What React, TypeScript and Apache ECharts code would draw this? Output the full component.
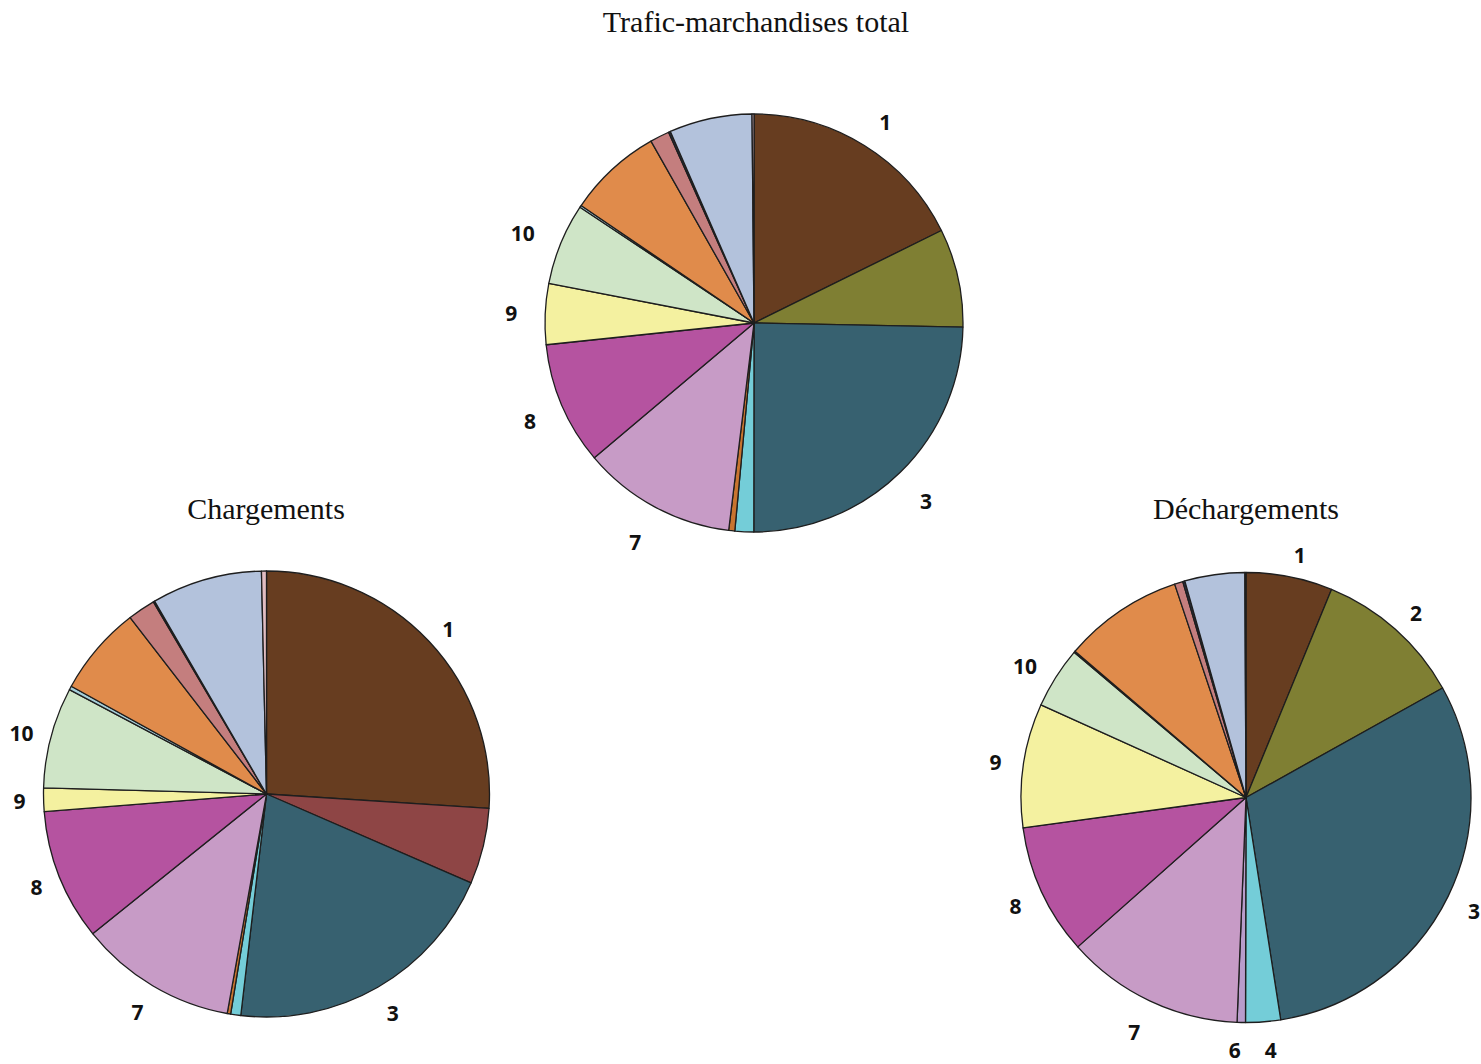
import React, { useEffect, useRef } from "react";
import * as echarts from "echarts";

// Category codes (clockwise order from 12 o'clock)
const categories = ["1", "2", "3", "4", "5", "6", "7", "8", "9", "10", "11", "12", "13", "14", "15", "16"];

// Shares (%)
const totalValues = [17.7, 7.6, 24.7, 1.45, 0.47, 0, 11.9, 9.5, 4.7, 6.3, 0.15, 7.3, 1.5, 0.15, 6.4, 0.15];
const chargementsValues = [26.0, 5.5, 20.3, 0.73, 0.25, 0, 11.4, 9.5, 1.7, 7.3, 0.28, 6.5, 2.0, 0.1, 8.0, 0.36];
const dechargementsValues = [6.2, 10.7, 30.6, 2.5, 0, 0.6, 12.8, 9.4, 8.9, 4.4, 0.1, 8.6, 0.6, 0.15, 4.3, 0.08];

// Which categories carry a label in each chart
const totalLabels = ["1", "3", "7", "8", "9", "10"];
const chargementsLabels = ["1", "3", "7", "8", "9", "10"];
const dechargementsLabels = ["1", "2", "3", "4", "6", "7", "8", "9", "10"];

const titles = ["Trafic-marchandises total", "Chargements", "Déchargements"];

const palette = [
  "#673D20", "#7F7F33", "#376170", "#74CDD8", "#C8742F", "#B89CCB", "#C79BC6", "#B553A0",
  "#F4F1A0", "#CFE5C7", "#A6CFD9", "#E08B4B", "#C47E7E", "#2B2F45", "#B3C2DC", "#E2BDC2",
];
const chargementsPalette = palette.map((c, i) => (i === 1 ? "#8E4545" : c));

const VIEW_H = 1064;

function buildData(values: number[], labels: string[], colors: string[]) {
  return categories
    .map((name, i) => ({
      name,
      value: values[i],
      itemStyle: { color: colors[i] },
      label: { show: labels.includes(name) },
    }))
    .filter((d) => d.value > 0);
}

// Push labels of the lower half fully outside the circle, keeping them inside the view
function labelLayout(params: any) {
  const pts = params.labelLinePoints;
  if (!pts || pts.length < 2) return {};
  const vx = pts[1][0] - pts[0][0];
  const vy = pts[1][1] - pts[0][1];
  const len = Math.sqrt(vx * vx + vy * vy) || 1;
  const uy = vy / len;
  if (uy <= 0) return {};
  const r = params.labelRect;
  let dy = uy * r.height * 0.5;
  const room = VIEW_H - 2 - (r.y + r.height);
  if (dy > room) dy = Math.max(room, 0);
  return { dy };
}

function pieSeries(center: [number, number], radius: number, lineLen: number, data: any[]) {
  return {
    type: "pie",
    center,
    radius,
    startAngle: 90,
    clockwise: true,
    avoidLabelOverlap: false,
    data,
    itemStyle: { borderColor: "#1E1E1E", borderWidth: 1.3 },
    label: {
      position: "outside",
      formatter: "{b}",
      fontFamily: "'Open Sans', 'Noto Sans', sans-serif",
      fontWeight: "bold",
      fontSize: 21,
      lineHeight: 24,
      color: "#111",
      distanceToLabelLine: 0,
    },
    labelLine: { show: false, length: lineLen, length2: 0 },
    labelLayout,
    emphasis: { disabled: true },
  };
}

export default function App() {
  const ref = useRef<HTMLDivElement>(null);
  useEffect(() => {
    if (!ref.current) return;
    const chart = echarts.init(ref.current, undefined, { renderer: "svg" });
    const titleFont = { fontFamily: "'Liberation Serif', 'Times New Roman', serif", fontSize: 30, fill: "#111" };
    chart.setOption({
      animation: false,
      backgroundColor: "#fff",
      graphic: [
        { type: "text", x: 756, y: 21, style: { text: titles[0], ...titleFont, align: "center", verticalAlign: "middle" } },
        { type: "text", x: 266, y: 508, style: { text: titles[1], ...titleFont, align: "center", verticalAlign: "middle" } },
        { type: "text", x: 1246, y: 508, style: { text: titles[2], ...titleFont, align: "center", verticalAlign: "middle" } },
      ],
      series: [
        pieSeries([754, 323], 209, 28, buildData(totalValues, totalLabels, palette)),
        pieSeries([266.5, 794], 223, 18, buildData(chargementsValues, chargementsLabels, chargementsPalette)),
        pieSeries([1246, 797.5], 225, 22, buildData(dechargementsValues, dechargementsLabels, palette)),
      ],
    });
    return () => chart.dispose();
  }, []);
  return (
    <div
      ref={ref}
      style={{ position: "fixed", left: 0, top: 0, width: 1481, height: 1064, background: "#fff" }}
    />
  );
}
